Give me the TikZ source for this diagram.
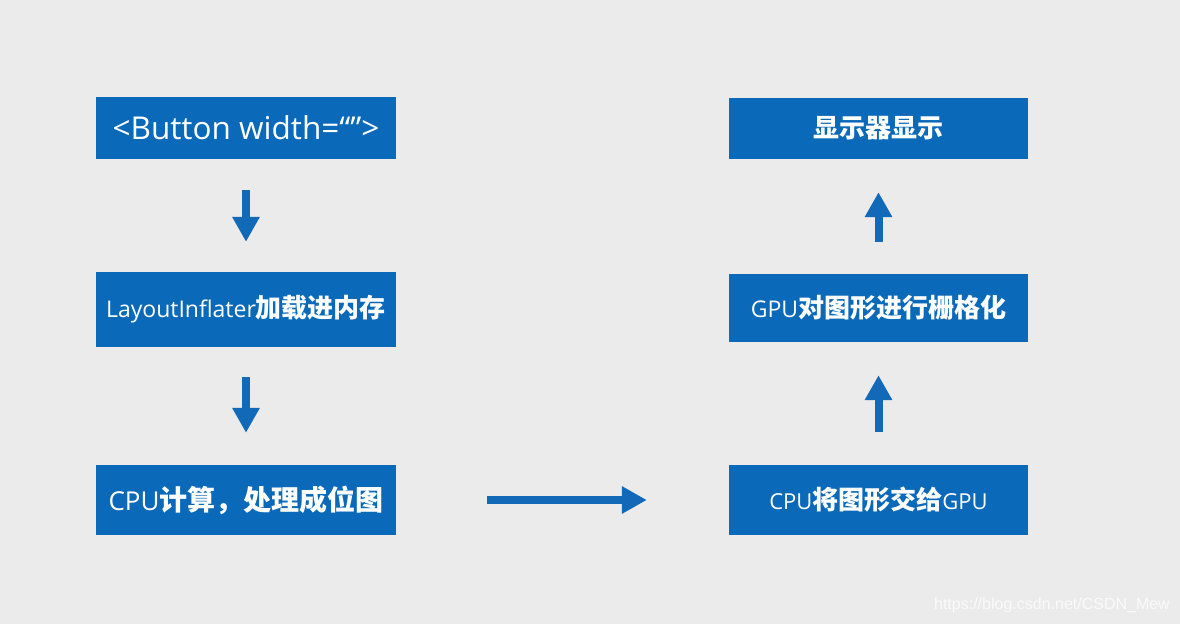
\documentclass[tikz,border=0pt]{standalone}
\usepackage{fontspec}
\setmainfont{Open Sans}
\newfontfamily\cjk{Noto Sans CJK SC}
\newfontfamily\wm{Liberation Sans}
\usetikzlibrary{arrows.meta}
\definecolor{bg}{HTML}{EBEBEB}
\definecolor{boxblue}{HTML}{0B69B9}
\definecolor{arrblue}{HTML}{1169B8}
\tikzset{
  box/.style={fill=boxblue, draw=none, inner sep=0pt, text=white, anchor=center},
  bigarrow/.style={draw=arrblue, line width=8pt, -{Triangle[length=25pt,width=26pt]}},
}
\begin{document}
\begin{tikzpicture}[x=1pt,y=-1pt]
\fill[bg] (0,0) rectangle (1180,624);
\useasboundingbox (0,0) rectangle (1180,624);
% left column
\node[box, minimum width=300pt, minimum height=62pt] (b1) at (246,128)
  {\fontsize{31.5}{34}\selectfont <Button width=“”>};
\node[box, minimum width=300pt, minimum height=75pt] (b2) at (246,309.5)
  {\fontsize{23}{26}\selectfont LayoutInflater{\cjk\bfseries\fontsize{26}{28}\selectfont 加载进内存}};
\node[box, minimum width=300pt, minimum height=70pt] (b3) at (246,500)
  {\fontsize{26}{30}\selectfont CPU{\cjk\bfseries\fontsize{28}{30}\selectfont 计算，处理成位图}};
% right column
\node[box, minimum width=299pt, minimum height=61pt] (r1) at (878.5,128.5)
  {\cjk\bfseries\fontsize{26}{28}\selectfont 显示器显示};
\node[box, minimum width=299pt, minimum height=68pt] (r2) at (878.5,308)
  {\fontsize{23}{26}\selectfont GPU{\cjk\bfseries\fontsize{26}{28}\selectfont 对图形进行栅格化}};
\node[box, minimum width=299pt, minimum height=70pt] (r3) at (878.5,500)
  {\fontsize{22}{26}\selectfont CPU{\cjk\bfseries\fontsize{26}{28}\selectfont 将图形交给}GPU};
% arrows
\draw[bigarrow, shorten <=31pt, shorten >=30pt] (b1.south) -- (b2.north);
\draw[bigarrow, shorten <=30pt, shorten >=32pt] (b2.south) -- (b3.north);
\draw[bigarrow, shorten <=91pt, shorten >=82pt] (b3.east) -- (r3.west);
\draw[bigarrow, shorten <=33pt, shorten >=33pt] (r3.north) -- (r2.south);
\draw[bigarrow, shorten <=32pt, shorten >=33pt] (r2.north) -- (r1.south);
% watermark
\node[text=white!98!black, anchor=east, inner sep=0pt] (wm) at (1170,605)
  {\wm\fontsize{16}{18}\selectfont https://blog.csdn.net/CSDN\_Mew};
\end{tikzpicture}
\end{document}
